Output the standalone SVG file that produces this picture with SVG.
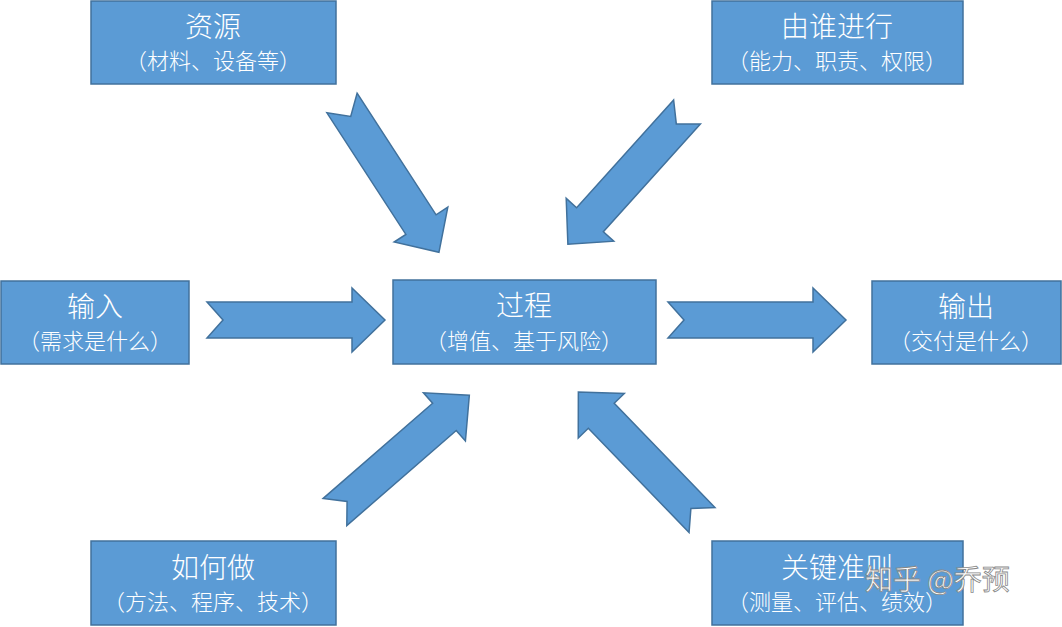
<svg xmlns="http://www.w3.org/2000/svg" width="1062" height="627" viewBox="0 0 1062 627">
<style>
.b{fill:#5B9BD5;stroke:#41719C;stroke-width:1.5}
.t{fill:#fff;font-family:"Noto Sans CJK SC","Liberation Sans",sans-serif;text-anchor:middle;font-weight:300}
.t1{font-size:28px}
.t2{font-size:22px}
.a{fill:#5B9BD5;stroke:#41719C;stroke-width:1.5}
</style>
<defs><polygon id="arr" points="0,-18 145,-18 145,-32 178,0 145,32 145,18 0,18 16,0"/></defs>
<rect width="1062" height="627" fill="#fff"/>
<g id="connectors">
<use href="#arr" class="a" transform="translate(207,320)"/>
<use href="#arr" class="a" transform="translate(668,320)"/>
<use href="#arr" class="a" transform="translate(342,103) rotate(57)"/>
<use href="#arr" class="a" transform="translate(687,112) rotate(132)"/>
<use href="#arr" class="a" transform="translate(335,512) rotate(-41)"/>
<use href="#arr" class="a" transform="translate(702,520) rotate(-134)"/>
</g>
<g id="n1"><rect class="b" x="91" y="1" width="245" height="83"/><text class="t t1" x="213" y="37">资源</text><text class="t t2" x="213" y="69">（材料、设备等）</text></g>
<g id="n2"><rect class="b" x="712" y="1" width="251" height="83"/><text class="t t1" x="837" y="37">由谁进行</text><text class="t t2" x="837" y="69">（能力、职责、权限）</text></g>
<g id="n3"><rect class="b" x="1" y="281" width="188" height="83"/><text class="t t1" x="95" y="317">输入</text><text class="t t2" x="95" y="349">（需求是什么）</text></g>
<g id="n4"><rect class="b" x="393" y="280" width="263" height="84"/><text class="t t1" x="524" y="316">过程</text><text class="t t2" x="524" y="349">（增值、基于风险）</text></g>
<g id="n5"><rect class="b" x="872" y="281" width="189" height="83"/><text class="t t1" x="966" y="317">输出</text><text class="t t2" x="966" y="349">（交付是什么）</text></g>
<g id="n6"><rect class="b" x="91" y="541" width="245" height="84"/><text class="t t1" x="213" y="578">如何做</text><text class="t t2" x="213" y="610">（方法、程序、技术）</text></g>
<g id="n7"><rect class="b" x="712" y="541" width="251" height="84"/><text class="t t1" x="837" y="578">关键准则</text><text class="t t2" x="837" y="610">（测量、评估、绩效）</text></g>
<text x="865" y="590" style="font-family:'Noto Sans CJK SC',sans-serif;font-size:28px;fill:#fff;stroke:#888;stroke-width:0.8">知乎 @乔预</text>
</svg>
